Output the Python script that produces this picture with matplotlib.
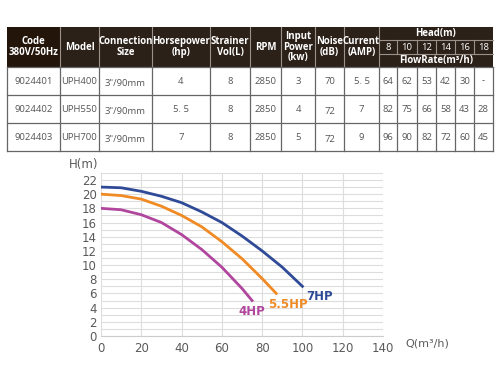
import numpy as np
import matplotlib.pyplot as plt
from matplotlib.patches import Rectangle

# ---- table data ----
header_cols = ["Code\n380V/50Hz", "Model", "Connection\nSize", "Horsepower\n(hp)",
               "Strainer\nVol(L)", "RPM", "Input\nPower\n(kw)", "Noise\n(dB)", "Current\n(AMP)"]
head_levels = ["8", "10", "12", "14", "16", "18"]
rows = [
    ["9024401", "UPH400", "3\"/90mm", "4", "8", "2850", "3", "70", "5. 5"],
    ["9024402", "UPH550", "3\"/90mm", "5. 5", "8", "2850", "4", "72", "7"],
    ["9024403", "UPH700", "3\"/90mm", "7", "8", "2850", "5", "72", "9"],
]
flows = [
    ["64", "62", "53", "42", "30", "-"],
    ["82", "75", "66", "58", "43", "28"],
    ["96", "90", "82", "72", "60", "45"],
]

# ---- curve data ----
q_4hp = [0, 10, 20, 30, 40, 50, 60, 70, 75]
h_4hp = [18, 17.8, 17.1, 16.0, 14.3, 12.2, 9.7, 6.7, 5]
q_55hp = [0, 10, 20, 30, 40, 50, 60, 70, 80, 87]
h_55hp = [20, 19.8, 19.3, 18.3, 17.0, 15.4, 13.3, 10.9, 8.1, 6]
q_7hp = [0, 10, 20, 30, 40, 50, 60, 70, 80, 90, 100]
h_7hp = [21, 20.9, 20.4, 19.7, 18.8, 17.5, 16.0, 14.1, 12.0, 9.7, 7]

fig = plt.figure(figsize=(5, 3.75), dpi=100)

# table drawn in pixel coordinates
tax = fig.add_axes([0, 0, 1, 1])
tax.set_xlim(0, 500)
tax.set_ylim(375, 0)
tax.axis("off")

col_x = [7, 60, 99, 152, 210, 250, 281, 315, 344, 379]
head_x = [379, 397, 417, 436, 455, 474, 493]
top, hdr_bot = 27, 67
row_y = [67, 95, 123, 151]
hdr_color = "#2c2118"

tax.add_patch(Rectangle((7, top), 486, hdr_bot - top, color=hdr_color, lw=0))
tax.add_patch(Rectangle((7, top), 53, hdr_bot - top, color="#24150a", lw=0))
for x in col_x[1:]:
    tax.plot([x, x], [top, hdr_bot], color="#9a918a", lw=0.8)
tax.plot([379, 493], [40, 40], color="#9a918a", lw=0.8)
tax.plot([379, 493], [54, 54], color="#9a918a", lw=0.8)
for x in head_x[1:-1]:
    tax.plot([x, x], [40, 54], color="#9a918a", lw=0.8)

for i, txt in enumerate(header_cols):
    cx = (col_x[i] + col_x[i + 1]) / 2
    tax.text(cx, 47, txt, color="white", fontsize=6.9, fontweight="bold",
             ha="center", va="center", linespacing=0.9, family="Open Sans")
tax.text(436, 33.5, "Head(m)", color="white", fontsize=6.9, fontweight="bold",
         ha="center", va="center", family="Open Sans")
for j, lv in enumerate(head_levels):
    tax.text((head_x[j] + head_x[j + 1]) / 2, 47, lv, color="white", fontsize=6.8,
             ha="center", va="center", family="Open Sans")
tax.text(436, 60.5, "FlowRate(m³/h)", color="white", fontsize=6.9, fontweight="bold",
         ha="center", va="center", family="Open Sans")

line_c = "#666666"
for y in row_y:
    tax.plot([7, 493], [y, y], color=line_c, lw=0.9)
for x in col_x + head_x[1:]:
    tax.plot([x, x], [row_y[0], row_y[-1]], color=line_c, lw=0.9)

for r, (vals, fl) in enumerate(zip(rows, flows)):
    cy = (row_y[r] + row_y[r + 1]) / 2
    for i, v in enumerate(vals):
        dy = 2 if i in (2, 7) and v == "72" or i == 2 else 0
        tax.text((col_x[i] + col_x[i + 1]) / 2, cy + dy, v, color="#555555",
                 fontsize=6.8, ha="center", va="center", family="Open Sans")
    for j, v in enumerate(fl):
        tax.text((head_x[j] + head_x[j + 1]) / 2, cy, v, color="#555555",
                 fontsize=6.8, ha="center", va="center", family="Open Sans")

# ---- performance chart ----
ax = fig.add_axes([0.202, 0.104, 0.564, 0.435])
ax.set_xlim(0, 140)
ax.set_ylim(0, 23)
ax.set_xticks(np.arange(0, 141, 20))
ax.set_yticks(np.arange(0, 23, 2))
ax.set_yticks(np.arange(0, 24, 1), minor=True)
ax.grid(True, which="both", axis="y", color="#dddddd", lw=0.8)
ax.grid(True, which="major", axis="x", color="#dddddd", lw=0.8)
for s in ["top", "right", "left"]:
    ax.spines[s].set_visible(False)
ax.spines["bottom"].set_color("#cccccc")
ax.tick_params(which="both", length=0, colors="#5a5a5a", labelsize=8.5, pad=3)
ax.tick_params(axis="x", pad=4)
ax.set_axisbelow(True)

ax.plot(q_4hp, h_4hp, color="#b0469e", lw=2)
ax.plot(q_55hp, h_55hp, color="#f08a24", lw=2)
ax.plot(q_7hp, h_7hp, color="#2f4a97", lw=2)

ax.text(102, 5.6, "7HP", color="#2f4a97", fontsize=8.5, fontweight="bold", va="center")
ax.text(83, 4.5, "5.5HP", color="#f08a24", fontsize=8.5, fontweight="bold", va="center")
ax.text(68, 3.5, "4HP", color="#b0469e", fontsize=8.5, fontweight="bold", va="center")

fig.text(84 / 500, 1 - 165 / 375, "H(m)", color="#5a5a5a", fontsize=8.5, ha="center", va="center")
fig.text(405 / 500, 1 - 344 / 375, "Q(m³/h)", color="#5a5a5a", fontsize=8, ha="left", va="center")

fig.savefig("out.png", dpi=100, facecolor="white")
